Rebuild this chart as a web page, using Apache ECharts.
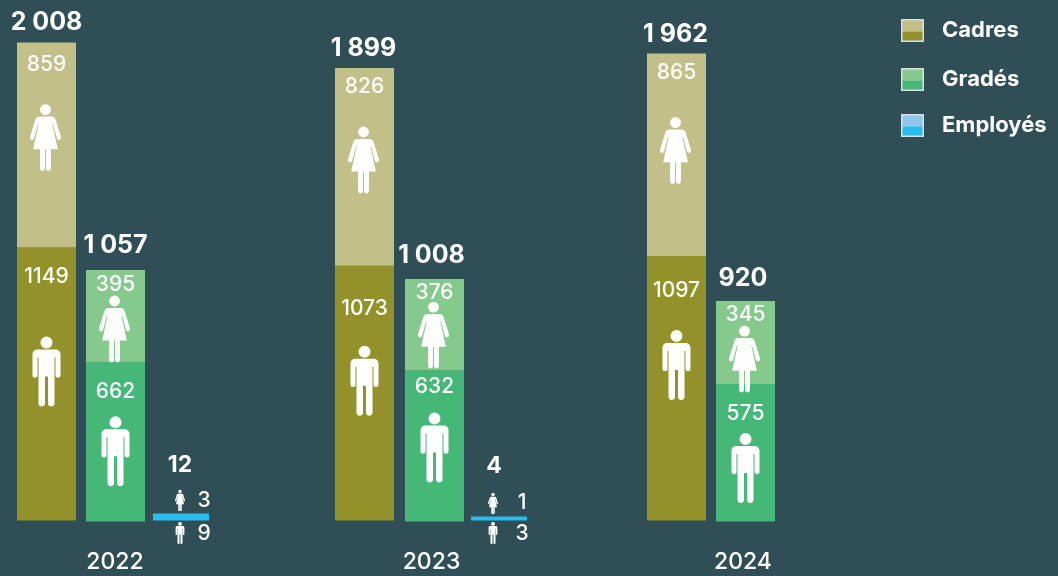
<!DOCTYPE html>
<html>
<head>
<meta charset="utf-8">
<style>html,body{margin:0;padding:0;background:#304e55}#c{width:1058px;height:576px}</style>
<script src="https://cdn.jsdelivr.net/npm/echarts@6/dist/echarts.min.js"></script>
</head>
<body>
<div id="c"></div>
<script>
// ---- data ----
const years = ['2022', '2023', '2024'];
const cadresHommes = [1149, 1073, 1097];
const cadresFemmes = [859, 826, 865];
const gradesHommes = [662, 632, 575];
const gradesFemmes = [395, 376, 345];
const employesHommes = [9, 3];
const employesFemmes = [3, 1];

// ---- styling / placement of decorations ----
const FONT = 'Inter, "Noto Sans", sans-serif';
const WHITE = '#ffffff';
const MAN = 'M5 13H23C26 13 28 15 28 18V39C28 42 23 42 23 39V21H22V67C22 71 15.5 71 15.5 67V40H12.5V67C12.5 71 6 71 6 67V21H5V39C5 42 0 42 0 39V18C0 15 2 13 5 13ZM8 6A6 6 0 1 0 20 6A6 6 0 1 0 8 6Z';
const WOMAN = 'M10 13H21C24 13 25 14 26 17L31 33C32 37 28 38 27 35L23 20L22.5 21L28 46H21V65C21 69 16 69 16 65V46H15V65C15 69 10 69 10 65V46H3L8.5 21L8 20L4 35C3 38 -1 37 0 33L5 17C6 14 7 13 10 13ZM10 6A5.5 5.5 0 1 0 21 6A5.5 5.5 0 1 0 10 6Z';

const layoutCadres = [
  {dx:-68.5, nt:-1, nb:0, tx:0, total:-21, fl:21, fi:95, ml:28, mi:124},
  {dx:-64.5, nt:-1.5, nb:0, tx:-1, total:-21, fl:18, fi:92, ml:42, mi:115},
  {dx:-66.5, nt:-1, nb:-4, tx:-1, total:-20.5, fl:18, fi:97, ml:34, mi:109}
];
const layoutGrades = [
  {dx:0.5, nt:0.5, nb:-1, tx:0, total:-25, fl:14, fi:59, ml:28, mi:89, base:1},
  {dx:5.5, nt:-2, nb:0, tx:-3, total:-25, fl:13, fi:56, ml:15, mi:77, base:1},
  {dx:2.5, nt:-1, nb:0, tx:-2.5, total:-24, fl:13, fi:58, ml:29, mi:84, base:1}
];
const layoutEmployes = [
  {dx:66, minH:7, totalX:-1, totalY:-56, iconX:-1, fy:-20, fly:-21, my:12.5, labelX:23},
  {dx:70, minH:4, totalX:-5, totalY:-55, iconX:-6, fy:-17, fly:-19, my:12.5, labelX:23}
];

function fmt(n){ return String(n).replace(/\B(?=(\d{3})+$)/g,' '); }
function txt(s,x,y,size,weight){
  return {type:'text',style:{text:s,x:x,y:y+1,fill:WHITE,font:weight+' '+size+'px '+FONT,textAlign:'center',textVerticalAlign:'middle'}};
}
function icon(path,cx,cy,w,h){
  return {type:'path',shape:{pathData:path,x:cx-w/2,y:cy-h/2,width:w,height:h,layout:'center'},style:{fill:WHITE}};
}
function tallBars(layout,dark,light){
  return function(params,api){
    const L = layout[params.dataIndex], i = api.value(0), m = api.value(1), f = api.value(2);
    const c0 = api.coord([i,0]), c1 = api.coord([i,m]), c2 = api.coord([i,m+f]);
    const W = 59, cx = c0[0]+L.dx, x = cx-W/2, base = c0[1]+(L.base||0), bd = c1[1]+L.nb, top = c2[1]+L.nt;
    return {type:'group',children:[
      {type:'rect',shape:{x:x,y:bd,width:W,height:base-bd},style:{fill:dark}},
      {type:'rect',shape:{x:x,y:top,width:W,height:bd-top},style:{fill:light}},
      txt(fmt(m+f),cx+L.tx,top+L.total,25,700),
      txt(String(f),cx,top+L.fl,21,500),
      icon(WOMAN,cx-1,top+L.fi,31,68),
      txt(String(m),cx,bd+L.ml,21,500),
      icon(MAN,cx,bd+L.mi,28,70)
    ]};
  };
}
function smallBars(params,api){
  const L = layoutEmployes[params.dataIndex], i = api.value(0), m = api.value(1), f = api.value(2);
  const c0 = api.coord([i,0]), top = api.coord([i,m+f])[1];
  const W = 56, cx = c0[0]+L.dx, h = Math.max(c0[1]-top,L.minH), y = c0[1]-h;
  return {type:'group',children:[
    {type:'rect',shape:{x:cx-W/2,y:y,width:W,height:h},style:{fill:'#29bdef'}},
    txt(fmt(m+f),cx+L.totalX,c0[1]+L.totalY,23,700),
    icon(WOMAN,cx+L.iconX,c0[1]+L.fy,10,22),
    icon(MAN,cx+L.iconX,c0[1]+L.my,9,22),
    txt(String(f),cx+L.labelX,c0[1]+L.fly,21,500),
    txt(String(m),cx+L.labelX,c0[1]+L.my,21,500)
  ]};
}
function swatch(light,dark){
  const svg = '<svg xmlns="http://www.w3.org/2000/svg" width="23" height="23"><rect width="23" height="23" fill="#d8e0e0"/><rect x="1.5" y="1.5" width="20" height="11" fill="'+light+'"/><rect x="1.5" y="12.5" width="20" height="9" fill="'+dark+'"/></svg>';
  return 'image://data:image/svg+xml,'+encodeURIComponent(svg);
}
function legendAt(name,top,light,dark){
  return {left:901,top:top,padding:0,orient:'vertical',selectedMode:false,itemWidth:23,itemHeight:23,
    data:[{name:name,icon:swatch(light,dark)}],
    textStyle:{color:WHITE,fontFamily:FONT,fontWeight:700,fontSize:22,padding:[9,0,0,13]}};
}

const chart = echarts.init(document.getElementById('c'),null,{renderer:'canvas'});
chart.setOption({
  animation:false,
  backgroundColor:'#304e55',
  tooltip:{show:false},
  legend:[
    legendAt('Cadres',19,'#c2bf89','#93922a'),
    legendAt('Gradés',68,'#85c98c','#45b878'),
    legendAt('Employés',114,'#8ec5ec','#29bdef')
  ],
  grid:{left:115,width:628,top:21.75,height:498.75},
  xAxis:{type:'category',boundaryGap:false,data:years,axisLine:{show:false},axisTick:{show:false},
    axisLabel:{color:WHITE,fontFamily:FONT,fontSize:23,fontWeight:500,margin:30,hideOverlap:false,interval:0,alignMinLabel:'center',alignMaxLabel:'center',
      formatter:function(v){ return v==='2023'?'{s|'+v+'}':v; },
      rich:{s:{color:WHITE,fontFamily:FONT,fontSize:23,fontWeight:500,padding:[0,0,0,5]}}}},
  yAxis:{type:'value',min:0,max:2100,show:false},
  series:[
    {name:'Cadres',type:'custom',renderItem:tallBars(layoutCadres,'#93922a','#c2bf89'),encode:{x:0,y:1},clip:false,
      data:years.map((y,i)=>[i,cadresHommes[i],cadresFemmes[i]])},
    {name:'Gradés',type:'custom',renderItem:tallBars(layoutGrades,'#45b878','#85c98c'),encode:{x:0,y:1},clip:false,
      data:years.map((y,i)=>[i,gradesHommes[i],gradesFemmes[i]])},
    {name:'Employés',type:'custom',renderItem:smallBars,encode:{x:0,y:1},clip:false,
      data:employesHommes.map((m,i)=>[i,m,employesFemmes[i]])}
  ]
});
</script>
</body>
</html>
